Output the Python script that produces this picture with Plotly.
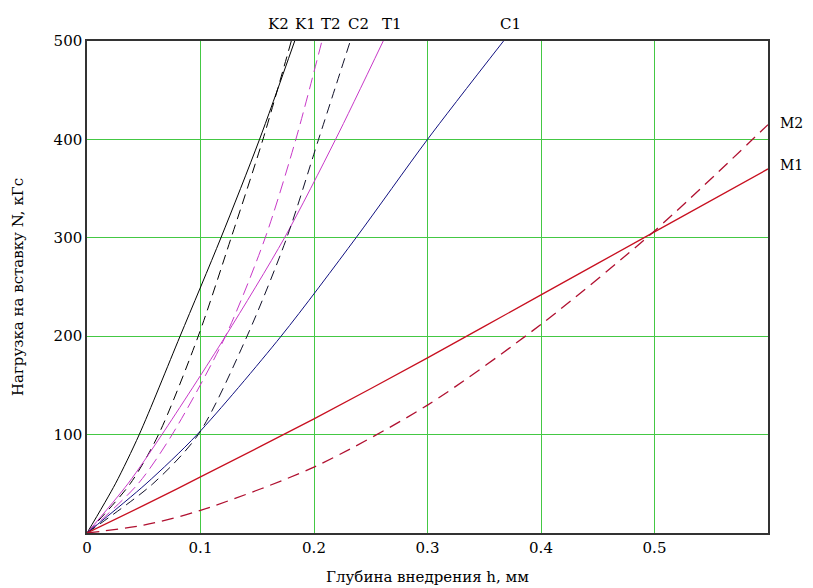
import plotly.graph_objects as go

# Load levels (kGs) for the K, T, C curves
N_levels = [0, 50, 100, 200, 300, 400, 500]
# Penetration depth h (mm) at each load level
K1_h = [0, 0.025, 0.046, 0.082, 0.118, 0.152, 0.183]
K2_h = [0, 0.038, 0.063, 0.098, 0.127, 0.155, 0.180]
T1_h = [0, 0.036, 0.066, 0.122, 0.174, 0.219, 0.261]
T2_h = [0, 0.045, 0.075, 0.122, 0.157, 0.184, 0.207]
C1_h = [0, 0.052, 0.097, 0.171, 0.237, 0.300, 0.367]
C2_h = [0, 0.058, 0.098, 0.141, 0.176, 0.204, 0.232]

# M curves given against depth
M_h = [0, 0.05, 0.1, 0.2, 0.3, 0.4, 0.5, 0.6]
M1_N = [0, 28, 57, 116, 178, 242, 306, 370]
M2_N = [0, 8, 23, 67, 130, 212, 307, 415]

x_ticks = [0, 0.1, 0.2, 0.3, 0.4, 0.5]
x_ticklabels = ["0", "0.1", "0.2", "0.3", "0.4", "0.5"]
y_ticks = [100, 200, 300, 400, 500]
y_ticklabels = ["100", "200", "300", "400", "500"]

top_labels = ["K2", "K1", "T2", "C2", "T1", "C1"]
top_label_x = [0.1687, 0.1925, 0.2146, 0.239, 0.269, 0.373]
right_labels = ["M2", "M1"]
right_label_y = [417, 374]

FONT = "DejaVu Serif"

fig = go.Figure()

def add(x, y, color, dash, width=1.0):
    fig.add_trace(go.Scatter(x=x, y=y, mode="lines",
                             line=dict(color=color, dash=dash, width=width, shape="spline", smoothing=0.8),
                             showlegend=False, hoverinfo="skip"))

add(K1_h, N_levels, "#000000", "solid")
add(K2_h, N_levels, "#000000", "10px,6px")
add(T1_h, N_levels, "#C838C8", "solid")
add(T2_h, N_levels, "#C838C8", "12px,6px")
add(C1_h, N_levels, "#101080", "solid")
add(C2_h, N_levels, "#101028", "10px,6px")
add(M_h, M1_N, "#C81020", "solid", 1.3)
add(M_h, M2_N, "#B01030", "12px,7px", 1.3)

annotations = []
for t, x in zip(top_labels, top_label_x):
    annotations.append(dict(text=t, x=x, xref="x", y=1.0346, yref="paper",
                            xanchor="center", yanchor="middle", showarrow=False,
                            font=dict(family=FONT, size=15, color="#000")))
for t, y in zip(right_labels, right_label_y):
    annotations.append(dict(text=t, x=1.0345, xref="paper", y=y, yref="y",
                            xanchor="center", yanchor="middle", showarrow=False,
                            font=dict(family=FONT, size=14, color="#000")))

fig.update_layout(
    width=813, height=588,
    margin=dict(l=79, r=53, t=33, b=63, autoexpand=False),
    paper_bgcolor="white", plot_bgcolor="white",
    font=dict(family=FONT, size=15, color="#000"),
    annotations=annotations,
    xaxis=dict(range=[0, 0.6], tickvals=x_ticks, ticktext=x_ticklabels,
               showgrid=True, gridcolor="#44C844", gridwidth=1.2,
               showline=True, linecolor="#333333", linewidth=1.5, mirror=True,
               zeroline=False, ticks="", tickfont=dict(family=FONT, size=15),
               title=dict(text="Глубина внедрения h, мм", font=dict(family=FONT, size=15), standoff=16)),
    yaxis=dict(range=[0, 500], tickvals=y_ticks, ticktext=y_ticklabels,
               showgrid=True, gridcolor="#44C844", gridwidth=1.2,
               showline=True, linecolor="#333333", linewidth=1.5, mirror=True,
               zeroline=False, ticks="", tickfont=dict(family=FONT, size=15),
               title=dict(text="Нагрузка на вставку N, кГс", font=dict(family=FONT, size=15), standoff=26)),
)

fig.write_html("out.html")
